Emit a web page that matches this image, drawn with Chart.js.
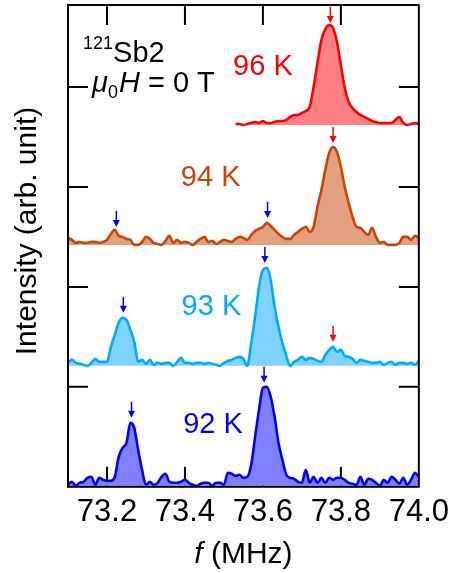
<!DOCTYPE html>
<html lang="en">
<head>
<meta charset="utf-8">
<title>121Sb2 NMR spectra</title>
<style>
body { margin: 0; background: #fff; }
#chartWrapper { width: 456px; height: 573px; }
</style>
</head>
<body>
<div id="chartWrapper"><canvas id="myChart" width="456" height="573"></canvas></div>
<script src="https://cdn.jsdelivr.net/npm/chart.js"></script>
<script>
// frequency grid (MHz)
const freq = [73.10,73.11,73.12,73.13,73.14,73.15,73.16,73.17,73.18,73.19,
  73.20,73.21,73.22,73.23,73.24,73.25,73.26,73.27,73.28,73.29,
  73.30,73.31,73.32,73.33,73.34,73.35,73.36,73.37,73.38,73.39,
  73.40,73.41,73.42,73.43,73.44,73.45,73.46,73.47,73.48,73.49,
  73.50,73.51,73.52,73.53,73.54,73.55,73.56,73.57,73.58,73.59,
  73.60,73.61,73.62,73.63,73.64,73.65,73.66,73.67,73.68,73.69,
  73.70,73.71,73.72,73.73,73.74,73.75,73.76,73.77,73.78,73.79,
  73.80,73.81,73.82,73.83,73.84,73.85,73.86,73.87,73.88,73.89,
  73.90,73.91,73.92,73.93,73.94,73.95,73.96,73.97,73.98,73.99,
  74.00];
const freq96 = [73.53,73.54,73.55,73.56,73.57,73.58,73.59,73.60,73.61,73.62,
  73.63,73.64,73.65,73.66,73.67,73.68,73.69,73.70,73.71,73.72,
  73.73,73.74,73.75,73.76,73.77,73.78,73.79,73.80,73.81,73.82,
  73.83,73.84,73.85,73.86,73.87,73.88,73.89,73.90,73.91,73.92,
  73.93,73.94,73.95,73.96,73.97,73.98,73.99,74.00];

// intensities (arb. unit), each above its own baseline
const i92 = [0.01,0.04,0.00,0.03,0.04,0.08,0.09,0.01,0.08,0.06,
  0.05,0.05,0.09,0.29,0.38,0.43,0.63,0.58,0.36,0.16,
  0.01,0.04,0.01,0.03,0.09,0.12,0.04,0.03,0.03,0.04,
  0.06,0.03,0.01,0.00,0.02,0.03,0.03,0.00,0.03,0.03,
  0.01,0.13,0.12,0.10,0.11,0.08,0.09,0.21,0.49,0.76,
  0.98,0.99,0.89,0.69,0.43,0.26,0.11,0.08,0.07,0.04,
  0.03,0.16,0.03,0.09,0.03,0.08,0.03,0.08,0.06,0.08,
  0.08,0.06,0.03,0.02,0.01,0.09,0.01,0.07,0.06,0.03,
  0.00,0.06,0.03,0.09,0.06,0.02,0.08,0.01,0.06,0.13,
  0.09];
const i93 = [0.03,0.06,0.03,0.02,0.01,0.00,0.03,0.07,0.04,0.04,
  0.04,0.19,0.31,0.43,0.48,0.46,0.36,0.24,0.04,0.06,
  0.02,0.06,0.01,0.03,0.02,0.03,0.03,0.00,0.04,0.08,
  0.03,0.03,0.02,0.03,0.03,0.02,0.03,0.02,0.01,0.00,
  0.03,0.05,0.06,0.08,0.09,0.07,0.00,0.23,0.49,0.79,
  0.96,0.98,0.86,0.59,0.39,0.23,0.10,0.00,0.04,0.06,
  0.09,0.06,0.08,0.07,0.05,0.04,0.11,0.16,0.19,0.14,
  0.16,0.10,0.09,0.07,0.03,0.06,0.05,0.04,0.03,0.03,
  0.04,0.01,0.03,0.04,0.01,0.03,0.03,0.02,0.03,0.01,
  0.05];
const i94 = [0.07,0.05,0.02,0.03,0.02,0.02,0.03,0.03,0.02,0.03,
  0.05,0.11,0.15,0.09,0.08,0.06,0.05,0.00,0.00,0.03,
  0.08,0.06,0.02,0.01,0.00,0.04,0.09,0.02,0.05,0.02,
  0.03,0.02,0.00,0.03,0.06,0.08,0.03,0.04,0.01,0.03,
  0.05,0.04,0.03,0.06,0.08,0.07,0.05,0.10,0.14,0.16,
  0.18,0.22,0.19,0.15,0.11,0.08,0.06,0.06,0.10,0.13,
  0.16,0.18,0.13,0.18,0.38,0.55,0.75,0.92,0.98,0.93,
  0.78,0.58,0.42,0.28,0.18,0.17,0.13,0.10,0.17,0.08,
  0.02,0.03,0.00,0.00,0.00,0.02,0.08,0.08,0.05,0.09,
  0.07];
const i96 = [0.01,0.01,0.00,0.01,0.02,0.03,0.02,0.04,0.02,0.02,
  0.03,0.04,0.04,0.05,0.08,0.10,0.10,0.12,0.14,0.18,
  0.38,0.62,0.85,0.96,1.00,0.97,0.83,0.60,0.37,0.23,
  0.17,0.13,0.10,0.08,0.06,0.04,0.03,0.02,0.02,0.02,
  0.02,0.05,0.08,0.02,0.00,0.01,0.02,0.01];

// vertical offsets of the stacked spectra
const offsets = [0.01, 1.21, 2.42, 3.62];
const tempLabels = ['92 K', '93 K', '94 K', '96 K'];

// peak markers: frequency and intensity of the arrow tip
const blueArrowX = [73.263, 73.603, 73.242, 73.605, 73.224, 73.612];
const blueArrowY = [0.69, 1.04, 1.74, 2.24, 2.60, 2.69];
const redArrowX = [73.78, 73.78, 73.773];
const redArrowY = [1.45, 3.44, 4.64];

const xTicks = [73.2, 73.4, 73.6, 73.8, 74.0];
const yTicks = [1, 2, 3, 4];

const lineColors = ['#0000ff', '#00aaff', '#c8450a', '#ff0000'];
const fillColors = ['#8080ff', '#80d2ff', '#e4a07e', '#ff8080'];
// label anchor in data units
const labelPos = [[73.472, 0.62], [73.468, 1.80], [73.466, 3.09], [73.60, 4.20]];

const FONT = '"Liberation Sans", Arial, Helvetica, sans-serif';

function series(xs, ys, off) {
	return xs.map((f, i) => ({x: f, y: off + ys[i]}));
}

const spectra = [[freq, i92], [freq, i93], [freq, i94], [freq96, i96]];
const datasets = spectra.map((s, k) => ({
	label: tempLabels[k],
	data: series(s[0], s[1], offsets[k]),
	borderColor: lineColors[k],
	backgroundColor: fillColors[k],
	borderWidth: 2.6,
	pointRadius: 0,
	cubicInterpolationMode: 'monotone',
	fill: {value: offsets[k]}
}));

function arrow(ctx, px, py, color) {
	ctx.strokeStyle = color;
	ctx.fillStyle = color;
	ctx.lineWidth = 1.5;
	ctx.beginPath();
	ctx.moveTo(px, py - 16);
	ctx.lineTo(px, py - 4);
	ctx.stroke();
	ctx.beginPath();
	ctx.moveTo(px, py);
	ctx.lineTo(px - 3.5, py - 7);
	ctx.lineTo(px + 3.5, py - 7);
	ctx.closePath();
	ctx.fill();
}

const decorations = {
	id: 'decorations',
	beforeDatasetsDraw(chart) {
		const {ctx, chartArea: a, scales: {x, y}} = chart;
		ctx.save();
		ctx.strokeStyle = '#000';
		ctx.lineWidth = 2;
		ctx.beginPath();
		for (const v of xTicks) {
			if (v >= x.max) continue;
			const px = x.getPixelForValue(v);
			ctx.moveTo(px, a.top); ctx.lineTo(px, a.top + 20);
			ctx.moveTo(px, a.bottom); ctx.lineTo(px, a.bottom - 20);
		}
		for (const v of yTicks) {
			const py = y.getPixelForValue(v);
			ctx.moveTo(a.left, py); ctx.lineTo(a.left + 20, py);
			ctx.moveTo(a.right, py); ctx.lineTo(a.right - 20, py);
		}
		ctx.stroke();
		ctx.restore();
	},
	afterDatasetsDraw(chart) {
		const {ctx, chartArea: a, scales: {x, y}} = chart;
		ctx.save();
		ctx.strokeStyle = '#000';
		ctx.lineWidth = 2;
		ctx.strokeRect(a.left, a.top, a.right - a.left, a.bottom - a.top);

		blueArrowX.forEach((f, i) => arrow(ctx, x.getPixelForValue(f), y.getPixelForValue(blueArrowY[i]), '#0000ff'));
		redArrowX.forEach((f, i) => arrow(ctx, x.getPixelForValue(f), y.getPixelForValue(redArrowY[i]), '#ff0000'));

		// temperature labels
		ctx.font = '29px ' + FONT;
		ctx.textAlign = 'center';
		ctx.textBaseline = 'middle';
		tempLabels.forEach((t, k) => {
			ctx.fillStyle = lineColors[k];
			ctx.fillText(t, x.getPixelForValue(labelPos[k][0]), y.getPixelForValue(labelPos[k][1]));
		});

		// sample / field annotation
		ctx.fillStyle = '#000';
		ctx.textAlign = 'left';
		ctx.textBaseline = 'alphabetic';
		let cx = a.left + 15;
		ctx.font = '18px ' + FONT;
		ctx.fillText('121', cx, a.top + 44);
		cx += ctx.measureText('121').width;
		ctx.font = '29px ' + FONT;
		ctx.fillText('Sb2', cx, a.top + 57);

		cx = a.left + 24;
		const base = a.top + 87;
		ctx.font = 'italic 29px ' + FONT;
		ctx.fillText('\u03bc', cx, base);
		cx += ctx.measureText('\u03bc').width;
		ctx.font = '18px ' + FONT;
		ctx.fillText('0', cx, base + 6);
		cx += ctx.measureText('0').width + 1;
		ctx.font = 'italic 29px ' + FONT;
		ctx.fillText('H', cx, base);
		cx += ctx.measureText('H').width;
		ctx.font = '29px ' + FONT;
		ctx.fillText(' = 0 T', cx, base);

		// x axis title: italic f + (MHz)
		ctx.font = 'italic 30px ' + FONT;
		const w1 = ctx.measureText('f').width;
		ctx.font = '30px ' + FONT;
		const w2 = ctx.measureText(' (MHz)').width;
		let tx = (a.left + a.right) / 2 - (w1 + w2) / 2;
		ctx.textBaseline = 'middle';
		ctx.font = 'italic 30px ' + FONT;
		ctx.fillText('f', tx, a.bottom + 68);
		ctx.font = '30px ' + FONT;
		ctx.fillText(' (MHz)', tx + w1, a.bottom + 68);

		// y axis title
		ctx.translate(a.left - 40, a.top + 226);
		ctx.rotate(-Math.PI / 2);
		ctx.textAlign = 'center';
		ctx.font = '30px ' + FONT;
		ctx.fillText('Intensity (arb. unit)', 0, 0);
		ctx.restore();
	}
};

new Chart(document.getElementById('myChart'), {
	type: 'line',
	data: {datasets: datasets},
	options: {
		responsive: false,
		animation: false,
		devicePixelRatio: 1,
		layout: {padding: {left: 68, right: 32, top: 5, bottom: 35}},
		plugins: {legend: {display: false}, tooltip: {enabled: false}},
		scales: {
			x: {
				type: 'linear',
				min: 73.1,
				max: 74.0,
				afterBuildTicks: s => { s.ticks = xTicks.map(v => ({value: v})); },
				grid: {display: false, drawTicks: false},
				border: {display: false},
				ticks: {
					color: '#000',
					padding: 7,
					maxRotation: 0,
					font: {family: FONT, size: 31},
					callback: v => v.toFixed(1)
				}
			},
			y: {
				type: 'linear',
				display: false,
				min: 0,
				max: 4.82
			}
		}
	},
	plugins: [decorations]
});
</script>
</body>
</html>
